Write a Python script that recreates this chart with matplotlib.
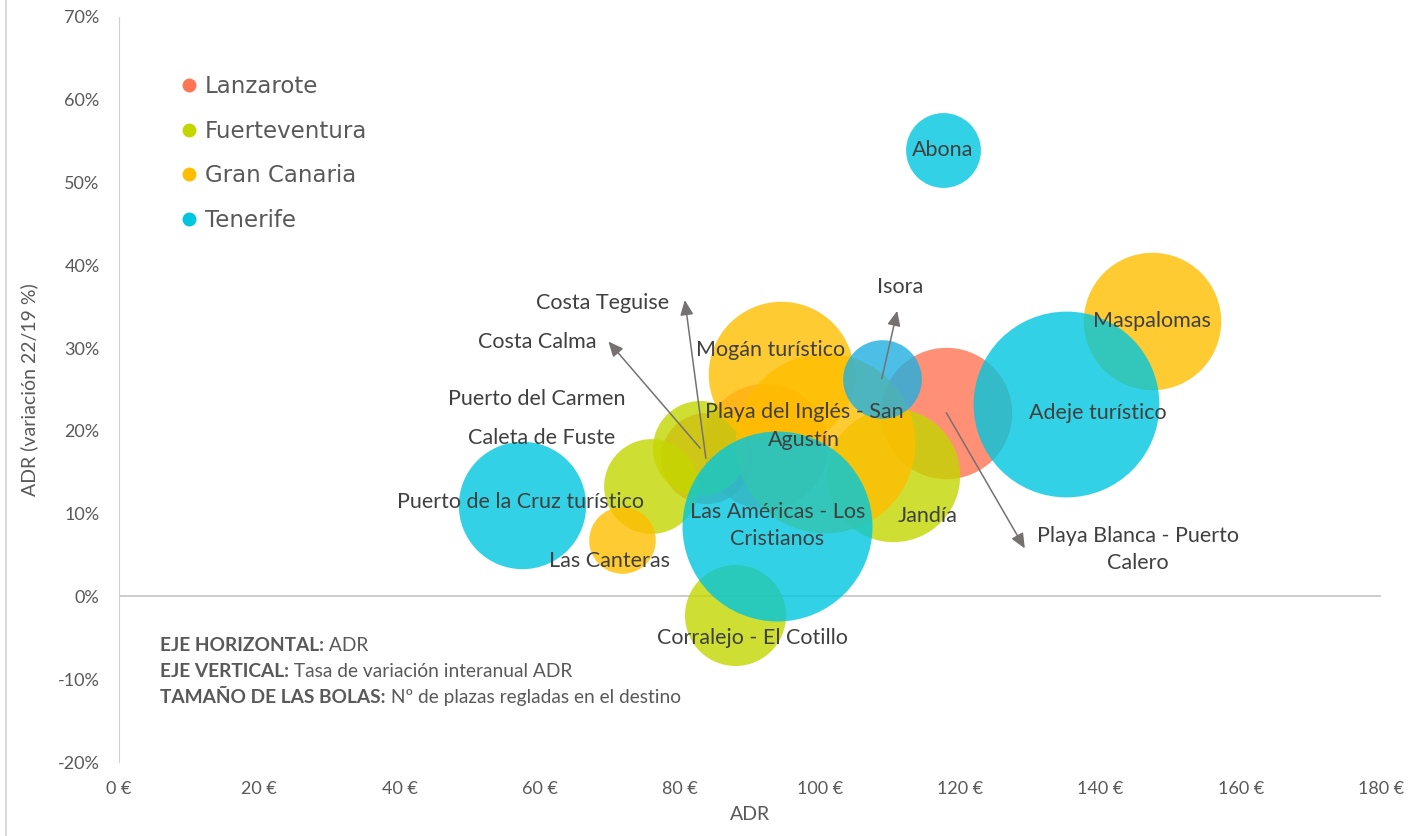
import matplotlib.pyplot as plt
from matplotlib.lines import Line2D

# Datos: destino, isla, ADR (€), variación ADR 22/19 (%), plazas regladas (estimadas)
destinos = ['Playa Blanca - Puerto\nCalero', 'Puerto del Carmen', 'Costa Teguise',
            'Jandía', 'Costa Calma', 'Caleta de Fuste', 'Corralejo - El Cotillo',
            'Maspalomas', 'Mogán turístico', 'Playa del Inglés - San\nAgustín', 'Las Canteras',
            'Abona', 'Adeje turístico', 'Isora', 'Las Américas - Los\nCristianos',
            'Puerto de la Cruz turístico']
islas = ['Lanzarote', 'Lanzarote', 'Lanzarote',
         'Fuerteventura', 'Fuerteventura', 'Fuerteventura', 'Fuerteventura',
         'Gran Canaria', 'Gran Canaria', 'Gran Canaria', 'Gran Canaria',
         'Tenerife', 'Tenerife', 'Tenerife', 'Tenerife', 'Tenerife']
adr = [118.0, 92.1, 83.7, 110.4, 82.9, 75.9, 87.9,
       147.3, 94.4, 100.7, 71.7,
       117.5, 135.1, 108.8, 93.9, 57.5]
variacion = [22.2, 18.2, 16.7, 14.7, 17.9, 13.4, -2.2,
             33.3, 26.9, 18.5, 6.8,
             53.9, 23.3, 26.3, 8.5, 11.0]
plazas = [29600, 26900, 14200, 30500, 15500, 15400, 17500,
          32400, 36300, 55400, 7600,
          9600, 59200, 10600, 61900, 27800]

# posición de las etiquetas (x, y) y fin de las flechas
etiqueta_pos = [(145.3, 5.7), (59.6, 23.9), (68.9, 35.5),
                (115.4, 9.7), (59.6, 30.7), (60.3, 19.1), (90.4, -5.0),
                (147.3, 33.3), (92.9, 29.8), (97.7, 20.6), (70.0, 4.3),
                (117.5, 53.9), (139.6, 22.1), (111.4, 37.4), (93.9, 8.6),
                (57.2, 11.4)]
flecha_fin = {0: (129.2, 5.8), 2: (80.7, 35.8), 4: (69.8, 30.8), 13: (111.0, 34.5)}

colores = {'Lanzarote': '#FF7553', 'Fuerteventura': '#C4D600',
           'Gran Canaria': '#FFBE00', 'Tenerife': '#00C6DF'}
color_isora = '#20B0E2'

fig = plt.figure(figsize=(14.26, 8.36), dpi=100)
ax = fig.add_axes([0.0835, 0.0885, 0.8849, 0.8912])

max_diam_pt = 2 * 95 * 0.72
for isla in colores:
    for i, d in enumerate(destinos):
        if islas[i] != isla:
            continue
        c = color_isora if d == 'Isora' else colores[isla]
        s = plazas[i] / max(plazas) * max_diam_pt ** 2
        ax.scatter(adr[i], variacion[i], s=s, color=c, alpha=0.8, linewidths=0, zorder=2)

# etiquetas y flechas
fuente = 'Lato'
for i, d in enumerate(destinos):
    tx, ty = etiqueta_pos[i]
    ax.text(tx, ty, d, ha='center', va='center', fontsize=15.5, color='#404040',
            family=fuente, linespacing=1.45, zorder=4)
    if i in flecha_fin:
        ax.annotate('', xy=flecha_fin[i], xytext=(adr[i], variacion[i]),
                    arrowprops=dict(arrowstyle='-|>,head_length=0.9,head_width=0.4',
                                    color='#767171', lw=1.1, shrinkA=0, shrinkB=0),
                    zorder=3)

ax.set_xlim(0, 180)
ax.set_ylim(-20, 70)
ax.set_xticks(range(0, 181, 20))
ax.set_xticklabels([f'{v} €' for v in range(0, 181, 20)])
ax.set_yticks(range(-20, 71, 10))
ax.set_yticklabels([f'{v}%' for v in range(-20, 71, 10)])
ax.tick_params(length=0, labelsize=13, colors='#595959', pad=14)
for lab in ax.get_xticklabels() + ax.get_yticklabels():
    lab.set_family(fuente)
for s in ['top', 'right', 'bottom']:
    ax.spines[s].set_visible(False)
ax.spines['left'].set_color('#D0D0D0')
ax.axhline(0, color='#C8C8C8', lw=1.3, zorder=1)

ax.set_xlabel('ADR', fontsize=14, color='#595959', family=fuente, labelpad=6)
ax.set_ylabel('ADR (variación 22/19 %)', fontsize=14, color='#595959', family=fuente, labelpad=14)

# leyenda
handles = [Line2D([], [], marker='o', linestyle='', markersize=9, color=colores[k],
                  label=k) for k in colores]
leg = ax.legend(handles=handles, loc='upper left', bbox_to_anchor=(0.03, 0.95),
                frameon=False, fontsize=16.5, labelspacing=0.95, handletextpad=0.2,
                handlelength=1.0)
for t in leg.get_texts():
    t.set_color('#595959')

# nota explicativa
notas = [('EJE HORIZONTAL:', ' ADR'),
         ('EJE VERTICAL:', ' Tasa de variación interanual ADR'),
         ('TAMAÑO DE LAS BOLAS:', ' Nº de plazas regladas en el destino')]
for k, (neg, txt) in enumerate(notas):
    y = -5.9 - k * 3.15
    b = ax.text(5.9, y, neg, fontsize=13.8, fontweight='bold', color='#595959',
                family=fuente, va='center', ha='left')
    ax.annotate(txt, xy=(1, 0.5), xycoords=b, va='center', ha='left',
                fontsize=13.8, color='#595959', family=fuente)

# borde izquierdo del área de gráfico
fig.add_artist(Line2D([0.004, 0.004], [0, 1], color='#D9D9D9', lw=1.5))

fig.savefig('out.png', dpi=100)
